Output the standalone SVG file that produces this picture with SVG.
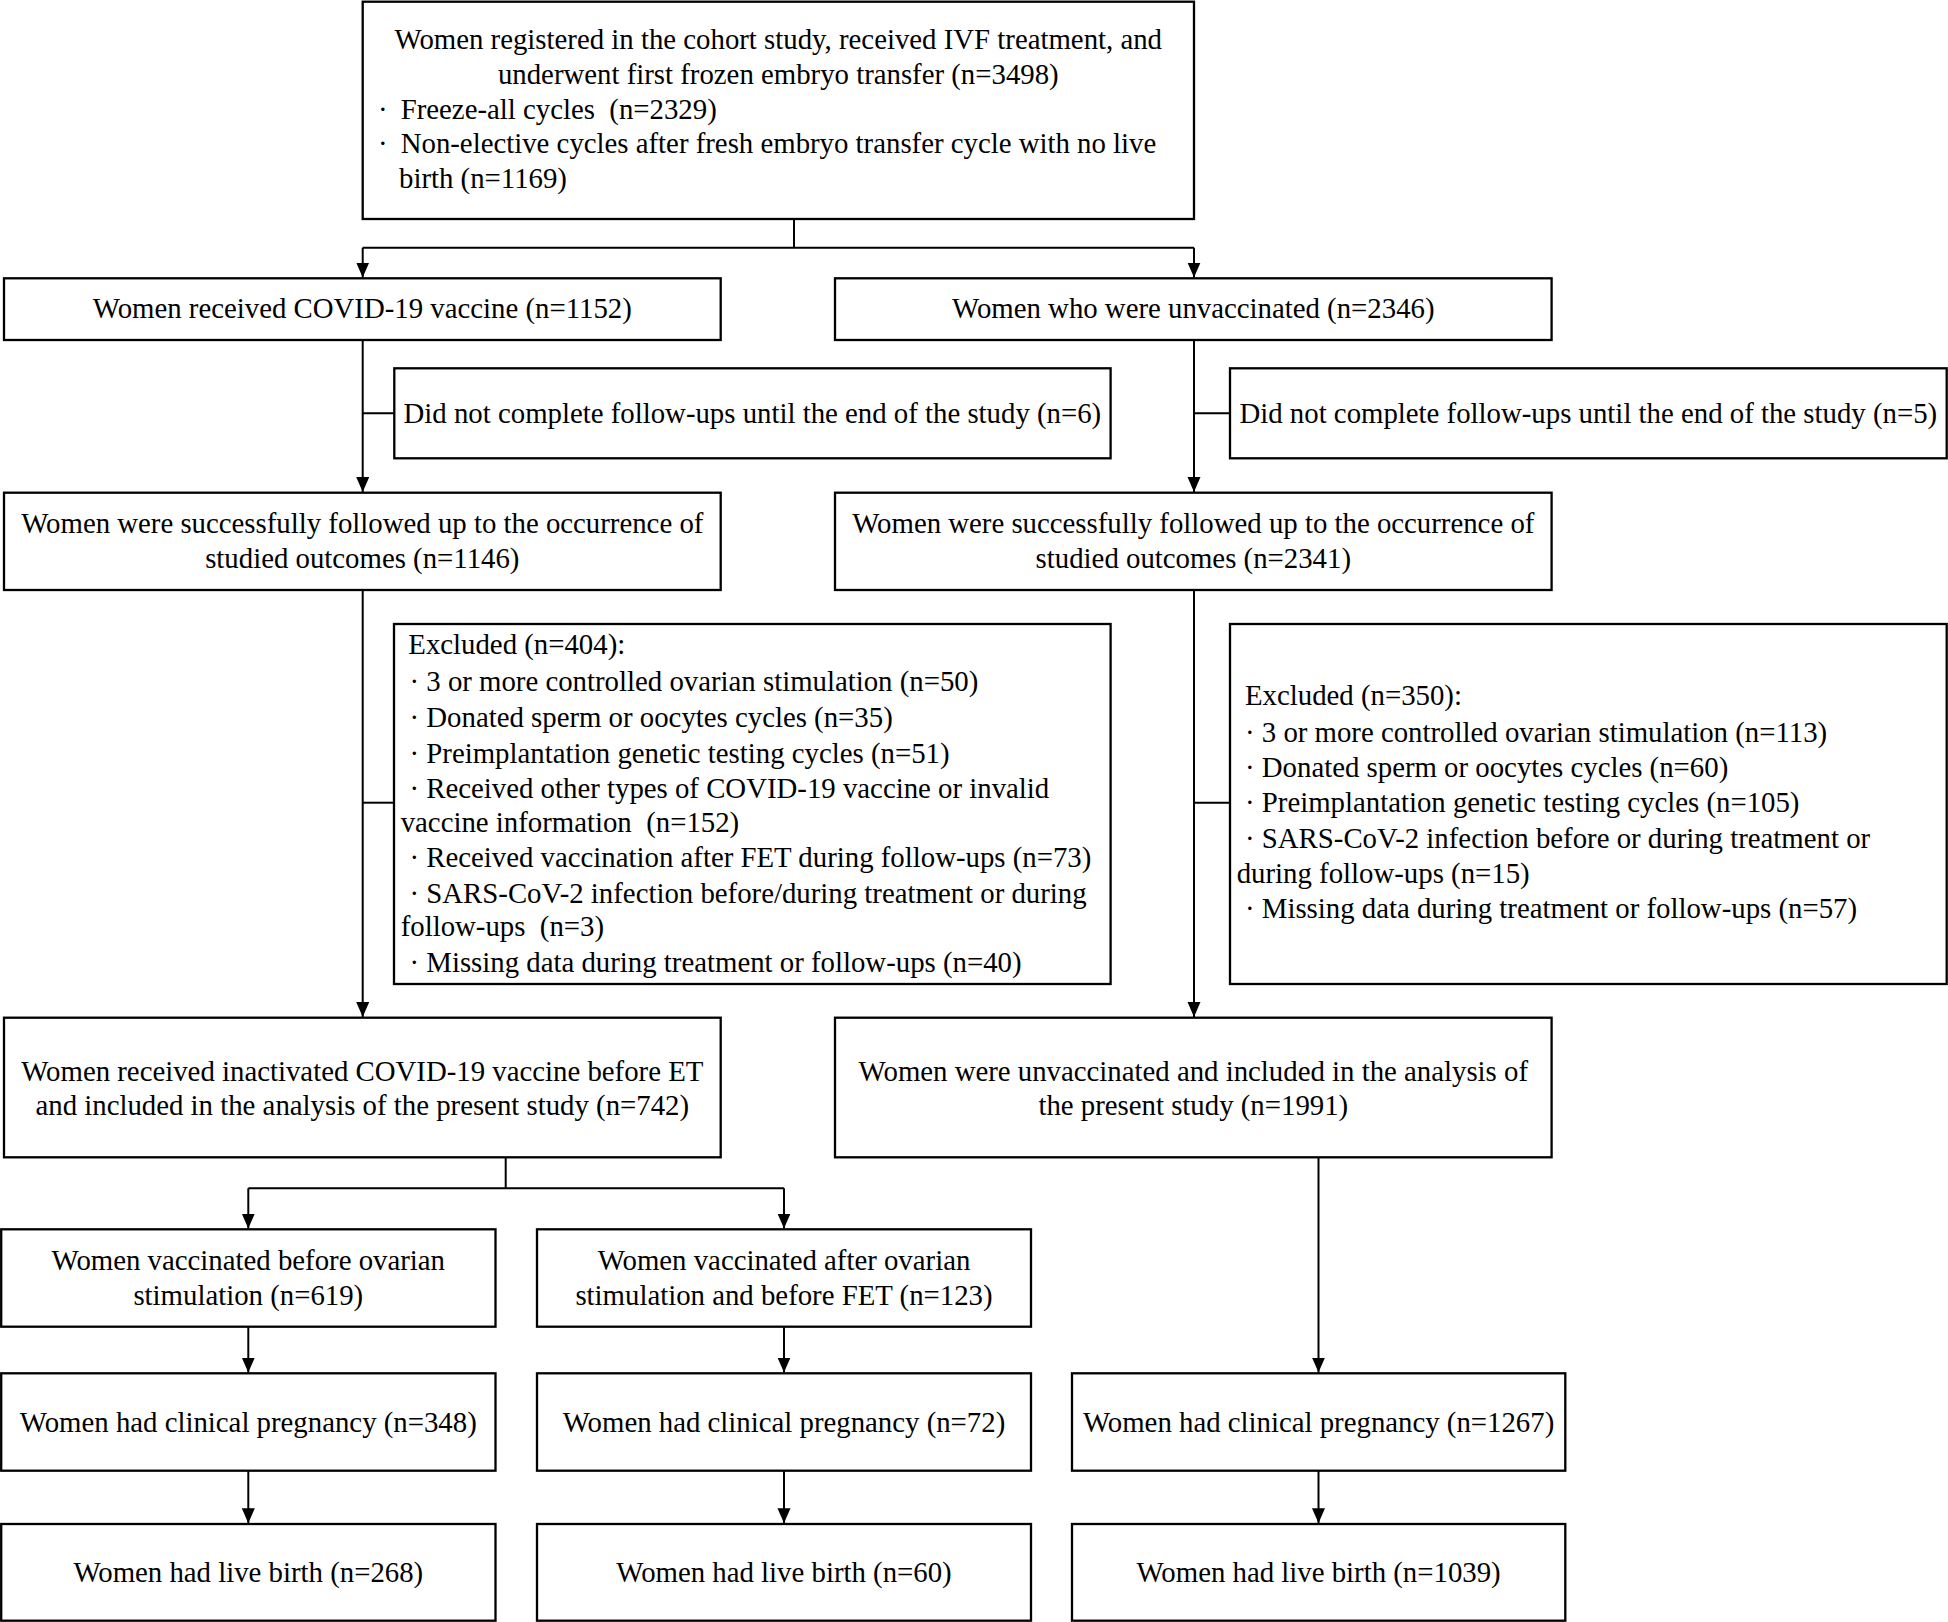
<svg xmlns="http://www.w3.org/2000/svg" width="1948" height="1622" viewBox="0 0 1948 1622">
<style>
  .box { fill: #ffffff; stroke: #000000; stroke-width: 2.3; }
  .t { font-family: "Liberation Serif", "Times New Roman", serif; font-size: 28.8px; fill: #000000; }
  .c { text-anchor: middle; }
  .ln { fill: none; stroke: #000000; stroke-width: 2; }
</style>
<defs>
  <marker id="arr" markerUnits="userSpaceOnUse" markerWidth="16" markerHeight="14" refX="15" refY="6.5" orient="auto">
    <path d="M0,0 L15,6.5 L0,13 z" fill="#000000"/>
  </marker>
</defs>
<rect width="1948" height="1622" fill="#ffffff"/>

<g id="connectors">
  <line class="ln" x1="794" y1="219" x2="794" y2="247.7"/>
  <polyline class="ln" points="362.7,247.7 1194,247.7"/>
  <line class="ln" x1="362.7" y1="247.7" x2="362.7" y2="277.5" marker-end="url(#arr)"/>
  <line class="ln" x1="1194" y1="247.7" x2="1194" y2="277.5" marker-end="url(#arr)"/>

  <line class="ln" x1="362.7" y1="340" x2="362.7" y2="492" marker-end="url(#arr)"/>
  <line class="ln" x1="362.7" y1="413.3" x2="394.3" y2="413.3"/>
  <line class="ln" x1="1194" y1="340" x2="1194" y2="492" marker-end="url(#arr)"/>
  <line class="ln" x1="1194" y1="413.3" x2="1230" y2="413.3"/>

  <line class="ln" x1="362.7" y1="590" x2="362.7" y2="1017" marker-end="url(#arr)"/>
  <line class="ln" x1="362.7" y1="802.7" x2="394" y2="802.7"/>
  <line class="ln" x1="1194" y1="590" x2="1194" y2="1017" marker-end="url(#arr)"/>
  <line class="ln" x1="1194" y1="802.7" x2="1230" y2="802.7"/>

  <line class="ln" x1="505.7" y1="1157.3" x2="505.7" y2="1188.3"/>
  <line class="ln" x1="248.3" y1="1188.3" x2="784" y2="1188.3"/>
  <line class="ln" x1="248.3" y1="1188.3" x2="248.3" y2="1228.6" marker-end="url(#arr)"/>
  <line class="ln" x1="784" y1="1188.3" x2="784" y2="1228.6" marker-end="url(#arr)"/>

  <line class="ln" x1="248.3" y1="1326.7" x2="248.3" y2="1372.6" marker-end="url(#arr)"/>
  <line class="ln" x1="784" y1="1326.7" x2="784" y2="1372.6" marker-end="url(#arr)"/>
  <line class="ln" x1="1318.5" y1="1157.3" x2="1318.5" y2="1372.6" marker-end="url(#arr)"/>

  <line class="ln" x1="248.3" y1="1470.7" x2="248.3" y2="1523.3" marker-end="url(#arr)"/>
  <line class="ln" x1="784" y1="1470.7" x2="784" y2="1523.3" marker-end="url(#arr)"/>
  <line class="ln" x1="1318.5" y1="1470.7" x2="1318.5" y2="1523.3" marker-end="url(#arr)"/>
</g>

<g id="n-registered">
  <rect class="box" x="362.7" y="1.7" width="831.3" height="217.3"/>
  <text class="t c" x="778.3" y="49.3">Women registered in the cohort study, received IVF treatment, and</text>
  <text class="t c" x="778.3" y="83.8">underwent first frozen embryo transfer (n=3498)</text>
  <text class="t" x="378" y="118.7">·</text>
  <text class="t" x="400.7" y="118.7" xml:space="preserve">Freeze-all cycles  (n=2329)</text>
  <text class="t" x="378" y="153.3">·</text>
  <text class="t" x="400.7" y="153.3">Non-elective cycles after fresh embryo transfer cycle with no live</text>
  <text class="t" x="399" y="188.3">birth (n=1169)</text>
</g>

<g id="n-vaccinated">
  <rect class="box" x="4" y="278.3" width="716.7" height="61.7"/>
  <text class="t c" x="362.3" y="318.3">Women received COVID-19 vaccine (n=1152)</text>
</g>
<g id="n-unvaccinated">
  <rect class="box" x="835" y="278.3" width="716.6" height="61.7"/>
  <text class="t c" x="1193.3" y="318.3">Women who were unvaccinated (n=2346)</text>
</g>

<g id="n-lost-left">
  <rect class="box" x="394.3" y="368.3" width="716.3" height="90"/>
  <text class="t c" x="752.4" y="422.7">Did not complete follow-ups until the end of the study (n=6)</text>
</g>
<g id="n-lost-right">
  <rect class="box" x="1230" y="368.3" width="716.7" height="90"/>
  <text class="t c" x="1588.3" y="422.7">Did not complete follow-ups until the end of the study (n=5)</text>
</g>

<g id="n-followed-left">
  <rect class="box" x="4" y="492.7" width="716.7" height="97.3"/>
  <text class="t c" x="362.3" y="532.7">Women were successfully followed up to the occurrence of</text>
  <text class="t c" x="362.3" y="567.7">studied outcomes (n=1146)</text>
</g>
<g id="n-followed-right">
  <rect class="box" x="835" y="492.7" width="716.6" height="97.3"/>
  <text class="t c" x="1193.3" y="532.7">Women were successfully followed up to the occurrence of</text>
  <text class="t c" x="1193.3" y="567.7">studied outcomes (n=2341)</text>
</g>

<g id="n-excluded-left">
  <rect class="box" x="394" y="624" width="716.6" height="360"/>
  <text class="t" x="408.3" y="654.3">Excluded (n=404):</text>
  <text class="t" x="409.5" y="690.7">· 3 or more controlled ovarian stimulation (n=50)</text>
  <text class="t" x="409.5" y="726.7">· Donated sperm or oocytes cycles (n=35)</text>
  <text class="t" x="409.5" y="762.7">· Preimplantation genetic testing cycles (n=51)</text>
  <text class="t" x="409.5" y="798.3">· Received other types of COVID-19 vaccine or invalid</text>
  <text class="t" x="400.7" y="831.7" xml:space="preserve">vaccine information  (n=152)</text>
  <text class="t" x="409.5" y="867.3">· Received vaccination after FET during follow-ups (n=73)</text>
  <text class="t" x="409.5" y="902.7">· SARS-CoV-2 infection before/during treatment or during</text>
  <text class="t" x="400.7" y="936" xml:space="preserve">follow-ups  (n=3)</text>
  <text class="t" x="409.5" y="971.7">· Missing data during treatment or follow-ups (n=40)</text>
</g>
<g id="n-excluded-right">
  <rect class="box" x="1230" y="624" width="716.7" height="360"/>
  <text class="t" x="1245" y="705">Excluded (n=350):</text>
  <text class="t" x="1245" y="741.7">· 3 or more controlled ovarian stimulation (n=113)</text>
  <text class="t" x="1245" y="776.7">· Donated sperm or oocytes cycles (n=60)</text>
  <text class="t" x="1245" y="812.3">· Preimplantation genetic testing cycles (n=105)</text>
  <text class="t" x="1245" y="848.3">· SARS-CoV-2 infection before or during treatment or</text>
  <text class="t" x="1236.7" y="883.3">during follow-ups (n=15)</text>
  <text class="t" x="1245" y="918.3">· Missing data during treatment or follow-ups (n=57)</text>
</g>

<g id="n-included-vacc">
  <rect class="box" x="4" y="1017.7" width="716.7" height="139.6"/>
  <text class="t c" x="362.3" y="1080.5">Women received inactivated COVID-19 vaccine before ET</text>
  <text class="t c" x="362.3" y="1115.3">and included in the analysis of the present study (n=742)</text>
</g>
<g id="n-included-unvacc">
  <rect class="box" x="835" y="1017.7" width="716.6" height="139.6"/>
  <text class="t c" x="1193.3" y="1080.5">Women were unvaccinated and included in the analysis of</text>
  <text class="t c" x="1193.3" y="1115.3">the present study (n=1991)</text>
</g>

<g id="n-before-os">
  <rect class="box" x="1.2" y="1229.3" width="494.3" height="97.4"/>
  <text class="t c" x="248.3" y="1270.2">Women vaccinated before ovarian</text>
  <text class="t c" x="248.3" y="1305.3">stimulation (n=619)</text>
</g>
<g id="n-after-os">
  <rect class="box" x="537" y="1229.3" width="494" height="97.4"/>
  <text class="t c" x="784" y="1270.2">Women vaccinated after ovarian</text>
  <text class="t c" x="784" y="1305.3">stimulation and before FET (n=123)</text>
</g>

<g id="n-preg-1">
  <rect class="box" x="1.2" y="1373.3" width="494.3" height="97.4"/>
  <text class="t c" x="248.3" y="1432">Women had clinical pregnancy (n=348)</text>
</g>
<g id="n-preg-2">
  <rect class="box" x="537" y="1373.3" width="494" height="97.4"/>
  <text class="t c" x="784" y="1432">Women had clinical pregnancy (n=72)</text>
</g>
<g id="n-preg-3">
  <rect class="box" x="1072" y="1373.3" width="493.3" height="97.4"/>
  <text class="t c" x="1318.6" y="1432">Women had clinical pregnancy (n=1267)</text>
</g>

<g id="n-birth-1">
  <rect class="box" x="1.2" y="1524" width="494.3" height="96.7"/>
  <text class="t c" x="248.3" y="1582.3">Women had live birth (n=268)</text>
</g>
<g id="n-birth-2">
  <rect class="box" x="537" y="1524" width="494" height="96.7"/>
  <text class="t c" x="784" y="1582.3">Women had live birth (n=60)</text>
</g>
<g id="n-birth-3">
  <rect class="box" x="1072" y="1524" width="493.3" height="96.7"/>
  <text class="t c" x="1318.6" y="1582.3">Women had live birth (n=1039)</text>
</g>
</svg>
